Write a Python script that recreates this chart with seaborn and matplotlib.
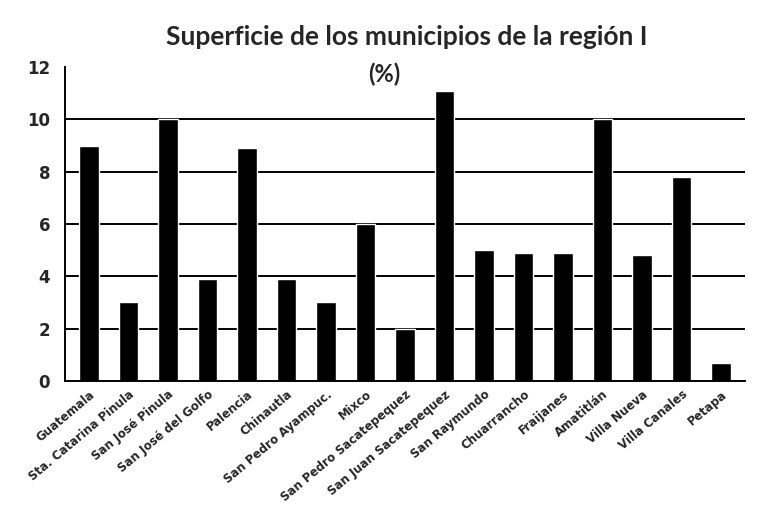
import matplotlib
matplotlib.use("Agg")
import matplotlib.pyplot as plt
import seaborn as sns
import pandas as pd

municipios = ["Guatemala", "Sta. Catarina Pinula", "San José Pinula", "San José del Golfo",
              "Palencia", "Chinautla", "San Pedro Ayampuc.", "Mixco",
              "San Pedro Sacatepequez", "San Juan Sacatepequez", "San Raymundo",
              "Chuarrancho", "Fraijanes", "Amatitlán", "Villa Nueva", "Villa Canales", "Petapa"]
superficie = [9.0, 3.0, 10.0, 3.9, 8.9, 3.9, 3.0, 6.0, 2.0, 11.1, 5.0,
              4.9, 4.9, 10.0, 4.8, 7.8, 0.7]
yticks = [0, 2, 4, 6, 8, 10, 12]

df = pd.DataFrame({"municipio": municipios, "superficie": superficie})

sns.set_style("white")
plt.rcParams["font.family"] = ["DejaVu Sans"]

fig = plt.figure(figsize=(7.6, 5.32), dpi=100)
ax = fig.add_axes([0.086, 0.284, 0.894, 0.59])

for y in yticks[1:-1]:
    ax.axhline(y, color="black", lw=1.4, zorder=0)

sns.barplot(data=df, x="municipio", y="superficie", color="black", width=0.5,
            saturation=1, ax=ax, zorder=2)

ax.set_ylim(0, 12)
ax.set_yticks(yticks)
ax.set_yticklabels([str(v) for v in yticks], fontsize=12, fontweight="bold")
ax.set_xlim(-0.6, len(municipios) - 0.4)
ax.set_xlabel("")
ax.set_ylabel("")
ax.set_xticks(range(len(municipios)))
ax.set_xticklabels(municipios, rotation=40, ha="right", rotation_mode="anchor",
                   fontsize=8.5, fontweight="bold")
ax.tick_params(axis="both", length=3, color="black", direction="out", pad=2)
ax.tick_params(axis="y", pad=8)
for s in ["top", "right"]:
    ax.spines[s].set_visible(False)
for s in ["left", "bottom"]:
    ax.spines[s].set_color("black")
    ax.spines[s].set_linewidth(1.4)

fig.text(0.535, 0.93, "Superficie de los municipios de la región I", ha="center",
         va="center", fontsize=19, family="Lato", fontweight="bold")
fig.text(0.505, 0.86, "(%)", ha="center", va="center", fontsize=17, family="Lato",
         fontweight="bold")

fig.savefig("out.png", dpi=100)
